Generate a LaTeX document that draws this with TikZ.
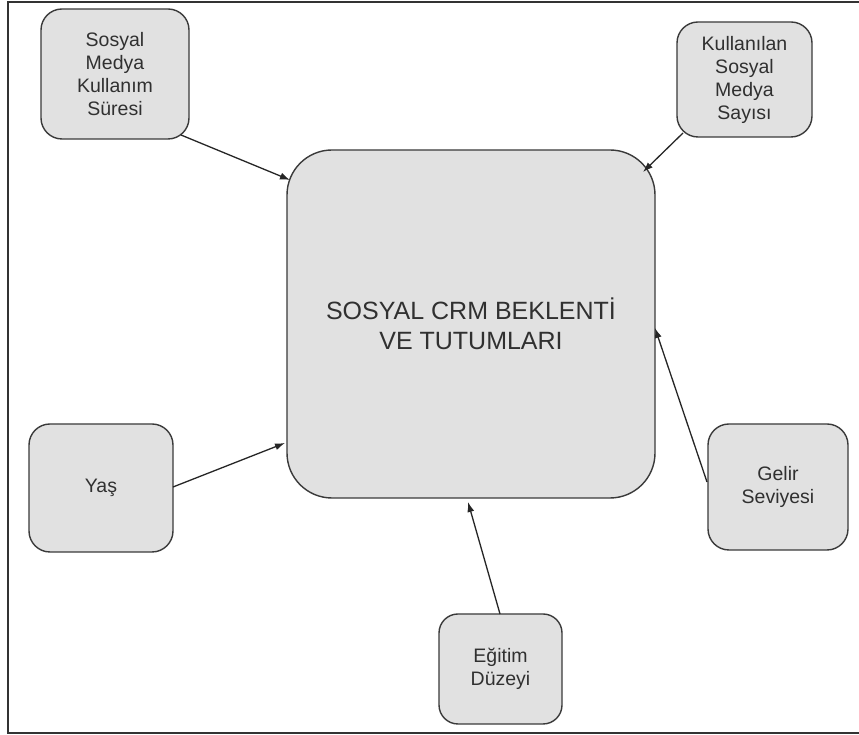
\documentclass[tikz,border=0pt]{standalone}
\usepackage{fontspec}
\setmainfont{Liberation Sans}
\usetikzlibrary{arrows.meta,calc}
\definecolor{boxfill}{HTML}{E1E1E1}
\definecolor{boxline}{HTML}{3A3A3A}
\definecolor{txt}{HTML}{303030}
\begin{document}
\begin{tikzpicture}[x=1pt,y=1pt,
  smallbox/.style={draw=boxline, fill=boxfill, line width=1.4pt, rounded corners=21pt,
    align=center, text=txt, inner sep=0pt,
    font=\fontsize{19.5}{23}\selectfont},
  bigbox/.style={draw=boxline, fill=boxfill, line width=1.4pt, rounded corners=45pt,
    align=center, text=txt, inner sep=0pt, minimum width=368pt, minimum height=348pt,
    font=\fontsize{25}{30}\selectfont},
  link/.style={draw=black!85, line width=1.3pt, -{Latex[length=10pt,width=7pt]}}]
\useasboundingbox (0,0) rectangle (859,735);
\fill[white] (0,0) rectangle (859,735);
\draw[line width=1.5pt, black!80] (862,733) -- (8,733) -- (8,2) -- (862,2);

\node[bigbox] (main) at (471,411) {SOSYAL CRM BEKLENTİ\\VE TUTUMLARI};
\node[smallbox, minimum width=148pt, minimum height=130pt] (sure) at (115,661) {Sosyal\\Medya\\Kullanım\\Süresi};
\node[smallbox, minimum width=135pt, minimum height=115pt] (sayi) at (744.5,655.5) {Kullanılan\\Sosyal\\Medya\\Sayısı};
\node[smallbox, minimum width=144pt, minimum height=128pt] (yas) at (101,247) {Yaş};
\node[smallbox, minimum width=140pt, minimum height=126pt] (gelir) at (778,248) {Gelir\\Seviyesi};
\node[smallbox, minimum width=123pt, minimum height=110pt, rounded corners=19pt] (egitim) at (500.5,66) {Eğitim\\Düzeyi};

\draw[link] ($(sure.center)+(66,-61)$) -- ($(main.center)+(-181,144)$);
\draw[link] ($(sayi.center)+(-61.5,-53.5)$) -- ($(main.center)+(172,152)$);
\draw[link] ($(yas.center)+(72,1)$) -- ($(main.center)+(-186,-119)$);
\draw[link] ($(gelir.center)+(-71,5)$) -- ($(main.center)+(184,-4)$);
\draw[link] ($(egitim.center)+(-0.5,55)$) -- ($(main.center)+(-3,-178)$);
\end{tikzpicture}
\end{document}
